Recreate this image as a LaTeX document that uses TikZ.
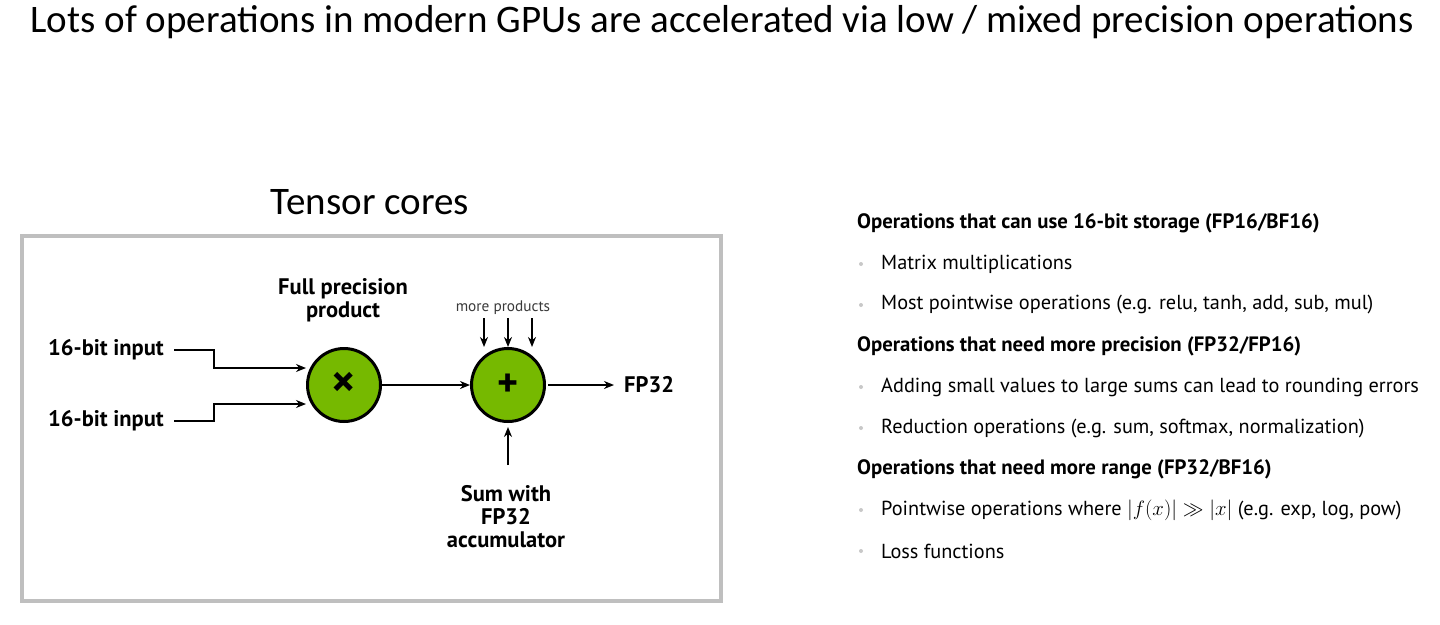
\documentclass[tikz,border=0pt]{standalone}
\usepackage{fontspec}
\setmainfont{PT Sans}
\newfontfamily\titlefont{Carlito}
\usetikzlibrary{arrows.meta}
\definecolor{nvgreen}{HTML}{76B900}
\definecolor{boxgray}{HTML}{BFBFBF}
\definecolor{bulletgray}{HTML}{C8C8C8}
\definecolor{smallgray}{HTML}{3A3A3A}
\begin{document}
\begin{tikzpicture}[x=1pt,y=-1pt,
  lbl/.style={font=\fontsize{22.5}{23}\selectfont\bfseries, align=center, inner sep=0pt},
  op/.style={circle, draw=black, line width=3pt, fill=nvgreen, minimum size=73pt, inner sep=0pt},
  wire/.style={line width=2.2pt, -{Stealth[length=10pt,width=8pt]}},
  head/.style={anchor=west, inner sep=0pt, font=\fontsize{20.8}{21}\selectfont\bfseries},
  item/.style={anchor=west, inner sep=0pt, font=\fontsize{20.3}{21}\selectfont},
  bul/.style={circle, fill=bulletgray, minimum size=4pt, inner sep=0pt},
  bigtxt/.style={font=\titlefont\fontsize{39}{39}\selectfont, inner sep=0pt}
]
\useasboundingbox (0,0) rectangle (1440,624);
\fill[white] (0,0) rectangle (1440,624);

\node[bigtxt] (title) at (722,22) {Lots of operations in modern GPUs are accelerated via low / mixed precision operations};
\node[bigtxt] (tc) at (370,202) {Tensor cores};

\node[draw=boxgray, line width=4pt, minimum width=699pt, minimum height=365pt, anchor=north west, inner sep=0pt] (box) at (20,234) {};

% operators
\node[op, font=\fontsize{46}{46}\selectfont\bfseries] (mul) at (344,385) {\raisebox{1pt}{×}};
\node[op, font=\fontsize{40}{40}\selectfont\bfseries] (add) at (508,385) {+};

% labels
\node[lbl] (in1) at (106,350) {16-bit input};
\node[lbl] (in2) at (106,421) {16-bit input};
\node[lbl] (fpp) at (343,300) {Full precision\\product};
\node[lbl, anchor=west] (fp32) at (624,385) {FP32};
\node[lbl] (sum) at (506,517) {Sum with\\FP32\\accumulator};
\node[font=\fontsize{15.3}{16}\selectfont, text=smallgray, inner sep=0pt] (more) at (503,308) {more products};

% connectors
\draw[wire] ([xshift=10pt]in1.east) -| ([xshift=-92pt,yshift=17pt]mul.west) -- ([yshift=17pt]mul.west);
\draw[wire] ([xshift=10pt]in2.east) -| ([xshift=-92pt,yshift=-19pt]mul.west) -- ([yshift=-19pt]mul.west);
\draw[wire] (mul.east) -- (add.west);
\draw[wire] ([xshift=2pt]add.east) -- ([xshift=-10pt]fp32.west);
\draw[wire] ([xshift=-24pt]add.north |- more.south) ++(0,3) -- ([xshift=-24pt]add.north);
\draw[wire] (add.north |- more.south) ++(0,3) -- (add.north);
\draw[wire] ([xshift=24pt]add.north |- more.south) ++(0,3) -- ([xshift=24pt]add.north);
\draw[wire] ([yshift=-42pt]add.south) -- ([yshift=-4pt]add.south);

% right list
\node[head] (h1) at (857,223) {Operations that can use 16-bit storage (FP16/BF16)};
\node[bul] (b1) at (861,264) {};
\node[item] (i1) at (881,264) {Matrix multiplications};
\node[bul] (b2) at (861,305) {};
\node[item] (i2) at (881,305) {Most pointwise operations (e.g. relu, tanh, add, sub, mul)};
\node[head] (h2) at (857,346) {Operations that need more precision (FP32/FP16)};
\node[bul] (b3) at (861,387) {};
\node[item] (i3) at (881,387) {Adding small values to large sums can lead to rounding errors};
\node[bul] (b4) at (861,428) {};
\node[item] (i4) at (881,428) {Reduction operations (e.g. sum, softmax, normalization)};
\node[head] (h3) at (857,469) {Operations that need more range (FP32/BF16)};
\node[bul] (b5) at (861,510) {};
\node[item] (i5) at (881,510) {Pointwise operations where $|f(x)| \gg |x|$ (e.g. exp, log, pow)};
\node[bul] (b6) at (861,551) {};
\node[item] (i6) at (881,551) {Loss functions};
\end{tikzpicture}
\end{document}
